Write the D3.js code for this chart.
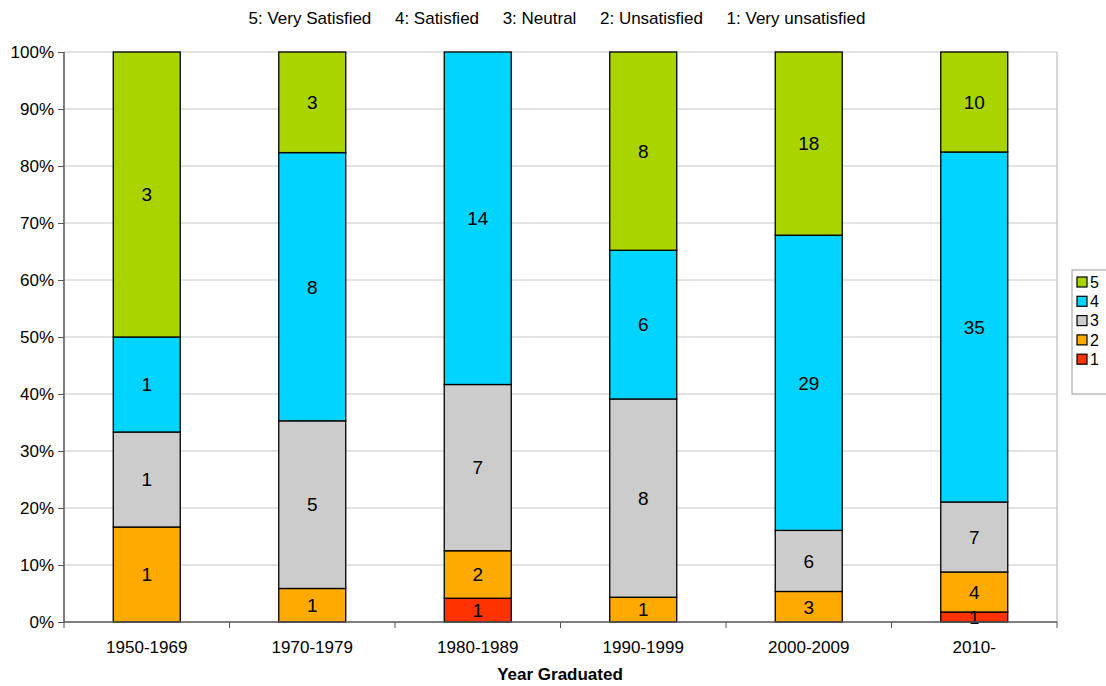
<!DOCTYPE html>
<html><head><meta charset="utf-8">
<script src="https://cdn.jsdelivr.net/npm/d3@7"></script>
<style>body{margin:0;background:#fff}svg{display:block;font-family:"Liberation Sans",Arial,sans-serif}</style>
</head><body><svg id="c" width="1106" height="686"></svg>
<script>
const categories = ["1950-1969","1970-1979","1980-1989","1990-1999","2000-2009","2010-"];
const keys = ["1","2","3","4","5"];
const s1 = [0,0,1,0,0,1];
const s2 = [1,1,2,1,3,4];
const s3 = [1,5,7,8,6,7];
const s4 = [1,8,14,6,29,35];
const s5 = [3,3,0,8,18,10];
const seriesVals = [s1,s2,s3,s4,s5];
const colors = ["#ff3300","#ffaa00","#cccccc","#00d4ff","#aad400"];
const yTicks = [0,0.1,0.2,0.3,0.4,0.5,0.6,0.7,0.8,0.9,1];
const headerText = "5: Very Satisfied     4: Satisfied     3: Neutral     2: Unsatisfied     1: Very unsatisfied";
const xTitle = "Year Graduated";

const svg = d3.select("#c");
const L=64,R=1057,T=52,B=622;
const x = d3.scaleBand().domain(categories).range([L,R]).paddingInner(0).paddingOuter(0);
const y = d3.scaleLinear().domain([0,1]).range([B,T]);

svg.append("text").attr("x",557).attr("y",24).attr("text-anchor","middle").attr("font-size",17)
  .attr("xml:space","preserve").style("white-space","pre").text(headerText);

svg.append("g").selectAll("line").data(yTicks.slice(1)).join("line")
  .attr("x1",L).attr("x2",R).attr("y1",d=>y(d)).attr("y2",d=>y(d)).attr("stroke","#c8c8c8").attr("stroke-width",1);
svg.append("line").attr("x1",R).attr("x2",R).attr("y1",T).attr("y2",B).attr("stroke","#b0b0b0");

const rows = categories.map((c,i)=>{const o={cat:c};keys.forEach((k,j)=>o[k]=seriesVals[j][i]);return o;});
const stack = d3.stack().keys(keys).offset(d3.stackOffsetExpand)(rows);

const bw = 67;
const g = svg.append("g");
stack.forEach((layer,j)=>{
  layer.forEach((d,i)=>{
    if(d[1]-d[0] <= 0) return;
    const cx = x(categories[i]) + x.bandwidth()/2;
    g.append("rect").attr("x",cx-bw/2).attr("width",bw)
      .attr("y",y(d[1])).attr("height",y(d[0])-y(d[1]))
      .attr("fill",colors[j]).attr("stroke","#000").attr("stroke-width",1.3);
  });
});
stack.forEach((layer,j)=>{
  layer.forEach((d,i)=>{
    if(d[1]-d[0] <= 0) return;
    const cx = x(categories[i]) + x.bandwidth()/2;
    g.append("text").attr("x",cx).attr("y",(y(d[0])+y(d[1]))/2).attr("dy","0.36em")
      .attr("text-anchor","middle").attr("font-size",19).attr("fill","#000").text(rows[i][keys[j]]);
  });
});

const yAxis = d3.axisLeft(y).tickValues(yTicks).tickFormat(d=>Math.round(d*100)+"%").tickSize(6).tickPadding(4);
const ya = svg.append("g").attr("transform",`translate(${L},0)`).call(yAxis);
ya.select(".domain").attr("stroke","#555").attr("stroke-width",1.5).attr("d",`M-0,${T}V${B}`);
ya.selectAll(".tick line").attr("stroke","#555");
ya.selectAll("text").attr("font-size",17).attr("fill","#000").attr("font-family","Liberation Sans, Arial, sans-serif");

const xa = svg.append("g").attr("transform",`translate(0,${B})`);
xa.append("line").attr("x1",L).attr("x2",R).attr("stroke","#555").attr("stroke-width",1.5);
const bounds = categories.map(c=>x(c)).concat([R]);
xa.selectAll("line.tk").data(bounds).join("line").attr("class","tk")
  .attr("x1",d=>d).attr("x2",d=>d).attr("y1",0).attr("y2",6).attr("stroke","#555");
xa.selectAll("text").data(categories).join("text")
  .attr("x",d=>x(d)+x.bandwidth()/2).attr("y",31).attr("text-anchor","middle").attr("font-size",17).text(d=>d);

svg.append("text").attr("x",560).attr("y",680).attr("text-anchor","middle").attr("font-size",17).attr("font-weight","bold").text(xTitle);

const lg = svg.append("g");
lg.append("rect").attr("x",1072).attr("y",270).attr("width",40).attr("height",124).attr("fill","#fff").attr("stroke","#999");
keys.slice().reverse().forEach((k,i)=>{
  const j = keys.length-1-i;
  const yy = 282 + i*19.3;
  lg.append("rect").attr("x",1077).attr("y",yy-5).attr("width",10).attr("height",10).attr("fill",colors[j]).attr("stroke","#000").attr("stroke-width",1.2);
  lg.append("text").attr("x",1090).attr("y",yy).attr("dy","0.36em").attr("font-size",16).text(k);
});
</script></body></html>
